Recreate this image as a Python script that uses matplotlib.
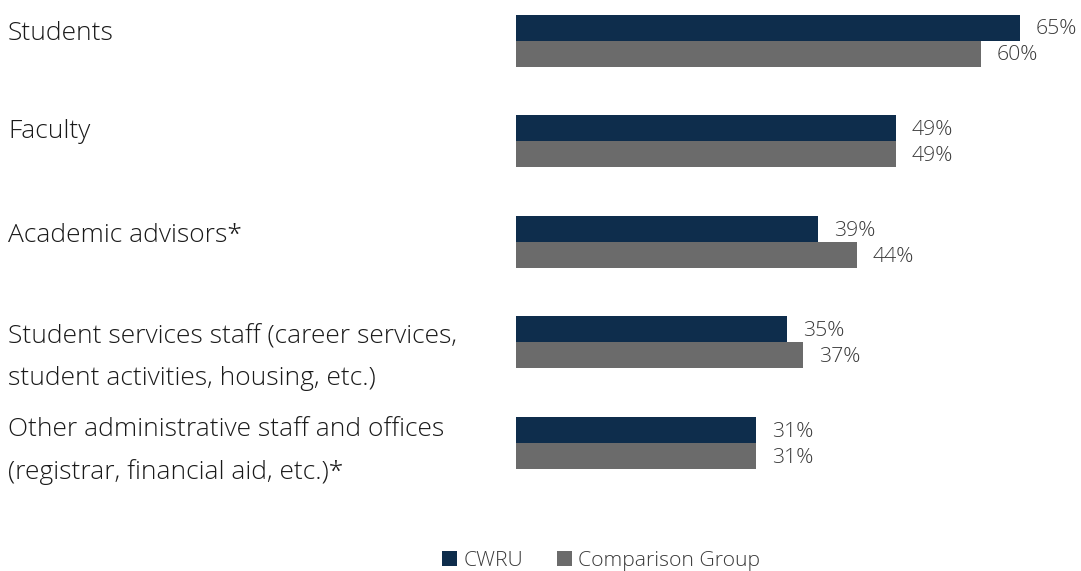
import matplotlib
matplotlib.use("Agg")
import matplotlib.pyplot as plt
from matplotlib.patches import Patch

plt.rcParams['font.family'] = ['Open Sans', 'DejaVu Sans']

categories = [
    "Students",
    "Faculty",
    "Academic advisors*",
    "Student services staff (career services,\nstudent activities, housing, etc.)",
    "Other administrative staff and offices\n(registrar, financial aid, etc.)*",
]
cwru = [65, 49, 39, 35, 31]
comparison = [60, 49, 44, 37, 31]
series_names = ["CWRU", "Comparison Group"]

NAVY = "#0E2D4C"
GRAY = "#6B6B6B"
TEXT = "#1A1A1A"
VALUE_TEXT = "#3A3A3A"

W, H = 1081, 571
fig = plt.figure(figsize=(W / 100, H / 100), dpi=100)

# plot area: zero at x=516px, 7.75 px per percentage point
left_px = 516
ax = fig.add_axes([left_px / W, 0, (W - left_px) / W, 1])
px_per_pct = 7.75
ax.set_xlim(0, (W - left_px) / px_per_pct)

group_px = 100.5
top = -40.5 / group_px
ax.set_ylim(top + H / group_px, top)

bar_h = 26 / group_px
ys = list(range(len(categories)))
ax.barh([y - bar_h / 2 for y in ys], cwru, height=bar_h, color=NAVY, align="center")
ax.barh([y + bar_h / 2 for y in ys], comparison, height=bar_h, color=GRAY, align="center")

pad = 16 / px_per_pct
nudge = 2 / group_px
for y, v in zip(ys, cwru):
    ax.text(v + pad, y - bar_h / 2 + nudge, f"{v}%", va="center", ha="left",
            fontsize=15.3, color=VALUE_TEXT, fontweight="light")
for y, v in zip(ys, comparison):
    ax.text(v + pad, y + bar_h / 2 + nudge, f"{v}%", va="center", ha="left",
            fontsize=15.3, color=VALUE_TEXT, fontweight="light")

ax.axis("off")

# category labels on the left
label_y_px = [33, 132, 236, 358, 451]
for lab, yp in zip(categories, label_y_px):
    fig.text(8 / W, 1 - yp / H, lab, ha="left", va="center", fontsize=19,
             color=TEXT, linespacing=1.85, fontweight="light")

handles = [Patch(facecolor=NAVY), Patch(facecolor=GRAY)]
fig.legend(handles, series_names, loc="center", bbox_to_anchor=(601 / W, 1 - 561 / H),
           ncol=2, frameon=False, handlelength=0.72, handleheight=0.72,
           handletextpad=0.3, columnspacing=1.6, labelcolor=VALUE_TEXT,
           prop={"size": 15.2, "weight": "light"})

fig.savefig("out.png", dpi=100)
